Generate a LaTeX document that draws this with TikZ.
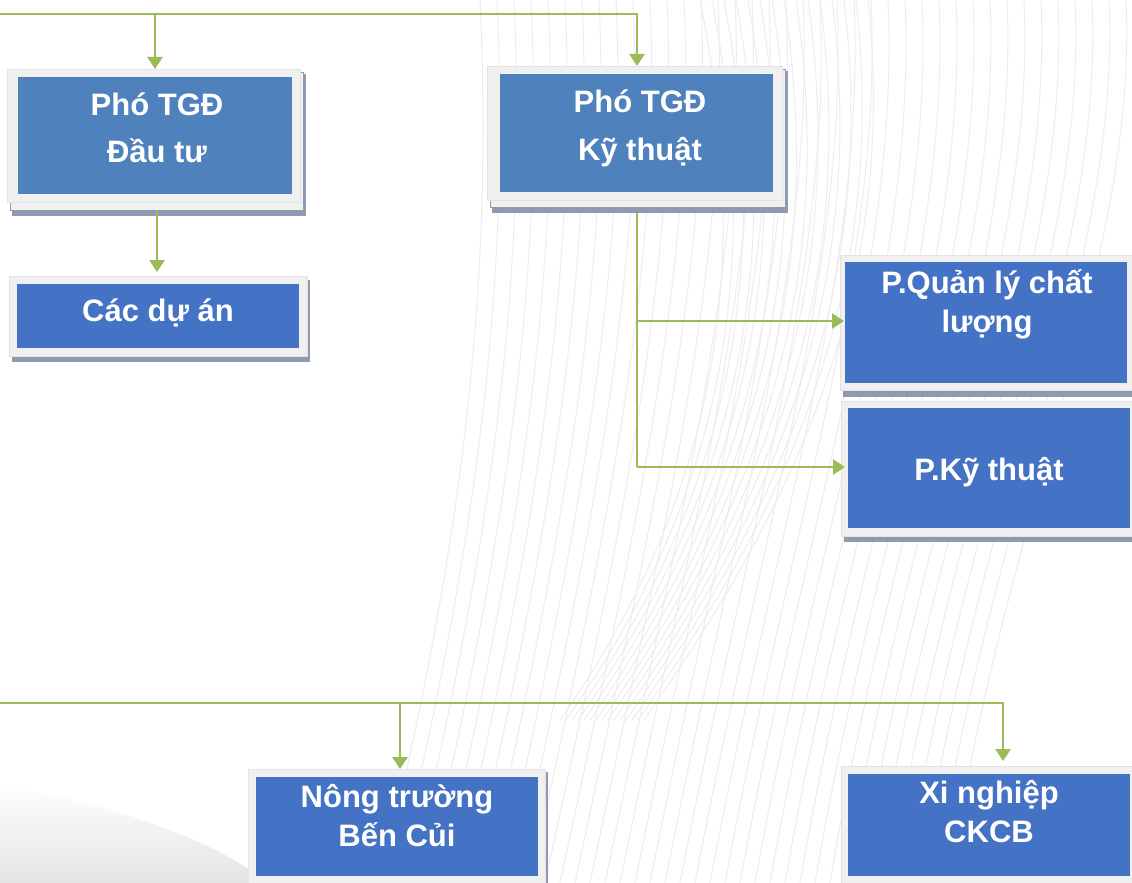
\documentclass[tikz,border=0pt]{standalone}
\usepackage{fontspec}
\setmainfont{Liberation Sans}
\usetikzlibrary{arrows.meta,fit}
\definecolor{framec}{HTML}{F0F0F0}
\definecolor{shadowc}{HTML}{8D9AB0}
\definecolor{blueA}{HTML}{4F81BD}
\definecolor{blueB}{HTML}{4472C4}
\definecolor{linec}{HTML}{9BBB59}
\definecolor{texc}{HTML}{EDEDED}
\newcommand{\twoline}[2]{\begin{tabular}[t]{@{}c@{}}#1\\#2\end{tabular}}
\begin{document}
\begin{tikzpicture}[x=1pt,y=-1pt,
 rect/.style={inner sep=0pt, outer sep=0pt},
 frame/.style={rect, fill=framec, draw=gray!22, line width=0.5pt},
 sheet/.style={rect, fill=framec, draw=shadowc, line width=0.8pt},
 shadowbox/.style={rect, fill=shadowc},
 tgd/.style={rect, fill=blueA},
 unit/.style={rect, fill=blueB},
 lbl/.style={text=white, font=\bfseries\fontsize{31}{39}\selectfont, anchor=base, inner sep=0pt},
 lblw/.style={lbl, font=\bfseries\fontsize{31}{47.5}\selectfont},
 conn/.style={draw=linec, line width=2.8pt},
 arr/.style={conn, -{Triangle[width=15pt,length=12pt]}},
]
\useasboundingbox (0,0) rectangle (1132,883);
\clip (0,0) rectangle (1132,883);
\fill[white] (0,0) rectangle (1132,883);
% background texture
\foreach \i in {0,...,38} {
  \draw[texc, line width=1pt] ({480+\i*17},0) .. controls ({492+\i*17},260) and ({470+\i*14},520) .. ({380+\i*15},883);
}
\foreach \i in {0,...,14} {
  \draw[texc, line width=1pt] ({700+\i*12},0) .. controls ({760+\i*10},300) and ({700+\i*6},520) .. ({560+\i*6},720);
}
\shade[top color=white, bottom color=gray!22] (0,785) .. controls (90,800) and (190,830) .. (250,870) -- (250,883) -- (0,883) -- cycle;

% Box 1: Pho TGD Dau tu
\node[shadowbox, fit={(12,74) (306,216)}] (b1s) {};
\node[sheet, fit={(10,72) (303,210)}] (b1m) {};
\node[frame, fit={(7,69) (300,202)}] (b1) {};
\node[tgd, fit={(18,77) (292,194)}] (b1i) {};
\node[lblw] (b1t) at (157,115) {\twoline{Phó TGĐ}{Đầu tư}};

% Box 2: Pho TGD Ky thuat
\node[shadowbox, fit={(492,71) (788,213)}] (b2s) {};
\node[sheet, fit={(490,69) (785,207)}] (b2m) {};
\node[frame, fit={(487,66) (782,200)}] (b2) {};
\node[tgd, fit={(500,74) (773,192)}] (b2i) {};
\node[lblw] (b2t) at (640,112.7) {\twoline{Phó TGĐ}{Kỹ thuật}};

% Box 3: Cac du an
\node[shadowbox, fit={(12,280) (310,362)}] (b3s) {};
\node[frame, fit={(9,276) (307,356)}] (b3) {};
\node[unit, fit={(17,284) (299,348)}] (b3i) {};
\node[lbl] (b3t) at (158,321) {Các dự án};

% Box 4: P.Quan ly chat luong
\node[shadowbox, fit={(843,259) (1140,397)}] (b4s) {};
\node[frame, fit={(840,255) (1140,390)}] (b4) {};
\node[unit, fit={(845,262) (1127,383)}] (b4i) {};
\node[lbl] (b4t) at (987,293) {\twoline{P.Quản lý chất}{lượng}};

% Box 5: P.Ky thuat
\node[shadowbox, fit={(844,405) (1140,542)}] (b5s) {};
\node[frame, fit={(841,401) (1140,536)}] (b5) {};
\node[unit, fit={(848,408) (1130,528)}] (b5i) {};
\node[lbl] (b5t) at (989,480) {P.Kỹ thuật};

% Box 6: Nong truong Ben Cui
\node[shadowbox, fit={(251,772) (548,890)}] (b6s) {};
\node[frame, fit={(248,769) (545,890)}] (b6) {};
\node[unit, fit={(256,777) (538,876)}] (b6i) {};
\node[lbl] (b6t) at (397,807) {\twoline{Nông trường}{Bến Củi}};

% Box 7: Xi nghiep CKCB
\node[frame, fit={(841,766) (1140,890)}] (b7) {};
\node[unit, fit={(848,774) (1130,876)}] (b7i) {};
\node[lbl] (b7t) at (989,803) {\twoline{Xi nghiệp}{CKCB}};

% connectors
\coordinate (t0) at (0,14);
\coordinate (t1) at (155,14);
\coordinate (t2) at (637,14);
\draw[arr] (t0) -- (t2) -- (t2 |- b2.north);
\draw[arr] (t1) -- (t1 |- b1.north);

\coordinate (b1o) at (157,210);
\draw[arr] (b1o) -- ([yshift=4pt]b1o |- b3.north);

\coordinate (b2o) at (637,213);
\coordinate (k1) at (637,321);
\coordinate (k2) at (637,467);
\draw[conn] (b2o) -- (k2);
\draw[arr] (k1) -- ([xshift=4pt]k1 -| b4.west);
\draw[arr] (k2) -- ([xshift=4pt]k2 -| b5.west);

\coordinate (u0) at (0,703);
\coordinate (u1) at (400,703);
\coordinate (u2) at (1003,703);
\draw[arr] (u0) -- (u2) -- ([yshift=5pt]u2 |- b7.north);
\draw[arr] (u1) -- (u1 |- b6.north);
\end{tikzpicture}
\end{document}
